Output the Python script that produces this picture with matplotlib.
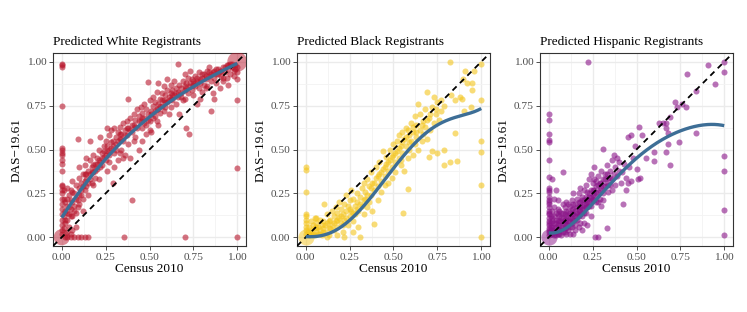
import numpy as np
import matplotlib
matplotlib.use("Agg")
from matplotlib import pyplot as plt

plt.rcParams['font.family'] = ['Liberation Serif', 'DejaVu Serif']

titles = ["Predicted White Registrants", "Predicted Black Registrants", "Predicted Hispanic Registrants"]

# ---- White: (census, das) pairs
white_pts = [
    (0, 0.99), (0, 0.98), (0, 0.97), (0, 0.75), (0, 0.51), (0, 0.50), (0, 0.48), (0, 0.47), (0, 0.44),
    (0, 0.42), (0, 0.38), (0, 0.30), (0, 0.29), (0, 0.27), (0, 0.25), (0, 0.22), (0, 0.19), (0, 0.16),
    (0, 0.13), (0, 0.10), (0, 0.07), (0, 0.04), (0, 0.02),
    (0.01, 0.05), (0.01, 0.12), (0.02, 0.08), (0.02, 0.15), (0.02, 0.20), (0.03, 0.03), (0.03, 0.10),
    (0.03, 0.18), (0.04, 0.06), (0.04, 0.13), (0.04, 0.24), (0.05, 0.02), (0.05, 0.16), (0.05, 0.21),
    (0.01, 0.27), (0.02, 0.00), (0.015, 0.22), (0.03, 0.28), (0.06, 0.12), (0.06, 0.26),
    (0.03, 0), (0.05, 0), (0.07, 0), (0.09, 0), (0.11, 0), (0.13, 0), (0.15, 0), (0.08, 0.06), (0.06, 0.04),
    (0.355, 0), (0.70, 0), (1.0, 0),
    (0.07, 0.18), (0.07, 0.25), (0.08, 0.14), (0.08, 0.30), (0.09, 0.21), (0.09, 0.56), (0.10, 0.19),
    (0.10, 0.28), (0.10, 0.34), (0.11, 0.24), (0.11, 0.31), (0.12, 0.22), (0.12, 0.36), (0.13, 0.27),
    (0.13, 0.41), (0.14, 0.33), (0.14, 0.29), (0.15, 0.38), (0.15, 0.24), (0.16, 0.36), (0.16, 0.44),
    (0.17, 0.31), (0.17, 0.40), (0.18, 0.37), (0.18, 0.47), (0.19, 0.34), (0.19, 0.42), (0.20, 0.45),
    (0.20, 0.39), (0.21, 0.33), (0.21, 0.50), (0.22, 0.43), (0.22, 0.57), (0.23, 0.41), (0.23, 0.48),
    (0.12, 0.15), (0.06, 0.32), (0.14, 0.45), (0.16, 0.55), (0.10, 0.40),
    (0.24, 0.46), (0.24, 0.52), (0.25, 0.44), (0.25, 0.55), (0.26, 0.49), (0.26, 0.38), (0.27, 0.58),
    (0.27, 0.47), (0.28, 0.51), (0.28, 0.61), (0.29, 0.31), (0.29, 0.55), (0.30, 0.48), (0.30, 0.62),
    (0.31, 0.53), (0.31, 0.57), (0.32, 0.44), (0.32, 0.60), (0.33, 0.56), (0.33, 0.63), (0.34, 0.50),
    (0.34, 0.59), (0.35, 0.65), (0.35, 0.55), (0.36, 0.47), (0.36, 0.61), (0.37, 0.58), (0.37, 0.66),
    (0.38, 0.79), (0.38, 0.62), (0.39, 0.45), (0.39, 0.68), (0.40, 0.21), (0.40, 0.60), (0.41, 0.64),
    (0.41, 0.70), (0.42, 0.57), (0.42, 0.67), (0.43, 0.62), (0.43, 0.73), (0.44, 0.69), (0.44, 0.50),
    (0.45, 0.66), (0.45, 0.74), (0.30, 0.40), (0.35, 0.45), (0.26, 0.62), (0.38, 0.53),
    (0.46, 0.71), (0.46, 0.62), (0.47, 0.76), (0.47, 0.68), (0.48, 0.64), (0.48, 0.73), (0.49, 0.886),
    (0.49, 0.70), (0.50, 0.78), (0.50, 0.66), (0.51, 0.72), (0.51, 0.60), (0.52, 0.75), (0.52, 0.80),
    (0.53, 0.69), (0.53, 0.77), (0.54, 0.73), (0.54, 0.83), (0.55, 0.76), (0.55, 0.64), (0.56, 0.79),
    (0.56, 0.71), (0.57, 0.82), (0.57, 0.75), (0.58, 0.78), (0.58, 0.86), (0.59, 0.74), (0.59, 0.81),
    (0.60, 0.84), (0.60, 0.77), (0.61, 0.80), (0.61, 0.70), (0.62, 0.82), (0.62, 0.87), (0.63, 0.78),
    (0.63, 0.84), (0.64, 0.81), (0.64, 0.89), (0.65, 0.76), (0.65, 0.85), (0.66, 0.83), (0.664, 0.99),
    (0.67, 0.70), (0.67, 0.87), (0.68, 0.80), (0.68, 0.85), (0.69, 0.89), (0.69, 0.78), (0.70, 0.84),
    (0.71, 0.62), (0.725, 0.59), (0.52, 0.68), (0.58, 0.72), (0.46, 0.55), (0.50, 0.61), (0.55, 0.88),
    (0.60, 0.90),
    (0.71, 0.88), (0.72, 0.82), (0.72, 0.91), (0.73, 0.86), (0.74, 0.84), (0.74, 0.90), (0.75, 0.87),
    (0.75, 0.81), (0.76, 0.92), (0.76, 0.86), (0.77, 0.89), (0.78, 0.85), (0.78, 0.94), (0.79, 0.88),
    (0.80, 0.91), (0.80, 0.83), (0.81, 0.93), (0.81, 0.87), (0.82, 0.90), (0.83, 0.95), (0.83, 0.86),
    (0.84, 0.92), (0.85, 0.72), (0.85, 0.89), (0.86, 0.94), (0.86, 0.82), (0.87, 0.91), (0.88, 0.96),
    (0.88, 0.88), (0.89, 0.93), (0.90, 0.85), (0.90, 0.95), (0.91, 0.92), (0.92, 0.97), (0.92, 0.89),
    (0.93, 0.94), (0.94, 0.91), (0.94, 0.98), (0.95, 0.96), (0.96, 0.93), (0.96, 0.99), (0.97, 0.97),
    (0.98, 0.95), (0.98, 0.92), (0.99, 0.98), (1.0, 0.97), (1.0, 0.94), (1.0, 0.90), (1.0, 0.78),
    (1.0, 0.395), (0.79, 0.79), (0.77, 0.76), (0.87, 0.79), (0.95, 0.87), (0.70, 0.93), (0.73, 0.95),
    (0.84, 0.97),
    (0.02, 0.10), (0.03, 0.14), (0.04, 0.17), (0.05, 0.12), (0.06, 0.20), (0.07, 0.15), (0.08, 0.22),
    (0.09, 0.17), (0.10, 0.24), (0.11, 0.27), (0.12, 0.29), (0.13, 0.32), (0.14, 0.36), (0.15, 0.31),
    (0.16, 0.33), (0.17, 0.37), (0.18, 0.41), (0.19, 0.38), (0.20, 0.42), (0.21, 0.44), (0.22, 0.40),
    (0.23, 0.45), (0.24, 0.49), (0.25, 0.47), (0.26, 0.52), (0.27, 0.50), (0.28, 0.54), (0.29, 0.52),
    (0.31, 0.50), (0.32, 0.55), (0.33, 0.59), (0.34, 0.56), (0.36, 0.58), (0.37, 0.62), (0.39, 0.61),
    (0.40, 0.64), (0.42, 0.63), (0.44, 0.66), (0.46, 0.68), (0.47, 0.65), (0.49, 0.67), (0.51, 0.70),
    (0.53, 0.72), (0.55, 0.73), (0.56, 0.75), (0.57, 0.78), (0.59, 0.77), (0.61, 0.78), (0.62, 0.79),
    (0.63, 0.81), (0.65, 0.82), (0.66, 0.80), (0.68, 0.82), (0.70, 0.86), (0.71, 0.85), (0.73, 0.88),
    (0.75, 0.89), (0.76, 0.88), (0.77, 0.91), (0.79, 0.90), (0.80, 0.93), (0.82, 0.92), (0.84, 0.94),
    (0.85, 0.93), (0.87, 0.95), (0.88, 0.93), (0.89, 0.96), (0.91, 0.95), (0.93, 0.97), (0.95, 0.98),
    (0.97, 0.99), (0.99, 0.96), (0.03, 0.22), (0.05, 0.27), (0.13, 0.36), (0.18, 0.30), (0.27, 0.43),
    (0.33, 0.48), (0.41, 0.55), (0.48, 0.59), (0.54, 0.66), (0.62, 0.74), (0.70, 0.79), (0.82, 0.85),
    (0.92, 0.91),
]

# ---- Black
black_pts = [
    (0, 0.40), (0, 0.385), (0, 0.255), (0, 0.12), (0, 0.10), (0, 0.08), (0, 0.06), (0, 0.04), (0, 0.02),
    (0.01, 0.03), (0.02, 0.06), (0.02, 0.01), (0.03, 0.04), (0.03, 0.09), (0.04, 0.02), (0.04, 0.07),
    (0.05, 0.05), (0.05, 0.11), (0.06, 0.03), (0.06, 0.08), (0.07, 0.02), (0.07, 0.06), (0.08, 0.10),
    (0.08, 0.04), (0.09, 0.07), (0.09, 0.01), (0.10, 0.05), (0.10, 0.09), (0.106, 0.19), (0.11, 0.03),
    (0.12, 0.08), (0.12, 0.13), (0.13, 0.05), (0.13, 0.01), (0.14, 0.10), (0.15, 0.07), (0.15, 0.15),
    (0.16, 0.04), (0.16, 0.12), (0.17, 0.09), (0.17, 0.17), (0.18, 0.06), (0.18, 0.14), (0.19, 0.11),
    (0.19, 0.20), (0.20, 0.08), (0.20, 0.16), (0.21, 0.13), (0.21, 0.03), (0.22, 0.19), (0.22, 0.10),
    (0.23, 0.15), (0.23, 0.24), (0.24, 0.07), (0.24, 0.18), (0.25, 0.12), (0.25, 0.21), (0.26, 0.27),
    (0.26, 0.15), (0.27, 0.09), (0.27, 0.22), (0.28, 0.18), (0.28, 0.13), (0.29, 0.25), (0.29, 0.20),
    (0.30, 0.15), (0.30, 0.06), (0.31, 0.0), (0.31, 0.23), (0.32, 0.28), (0.32, 0.18), (0.33, 0.13),
    (0.33, 0.31), (0.34, 0.22), (0.34, 0.26), (0.35, 0.17), (0.35, 0.33), (0.36, 0.29), (0.36, 0.20),
    (0.37, 0.37), (0.37, 0.24), (0.38, 0.15), (0.38, 0.31), (0.39, 0.078), (0.39, 0.27), (0.40, 0.40),
    (0.40, 0.34), (0.41, 0.21), (0.41, 0.29), (0.42, 0.43), (0.42, 0.36), (0.43, 0.32), (0.43, 0.26),
    (0.44, 0.49), (0.44, 0.39), (0.45, 0.35), (0.45, 0.30), (0.46, 0.42), (0.46, 0.46), (0.47, 0.38),
    (0.47, 0.31), (0.48, 0.50), (0.48, 0.44), (0.49, 0.40), (0.49, 0.34), (0.50, 0.47), (0.50, 0.53),
    (0.51, 0.43), (0.51, 0.37), (0.52, 0.55), (0.52, 0.49), (0.53, 0.45), (0.53, 0.58), (0.54, 0.41),
    (0.54, 0.52), (0.55, 0.60), (0.553, 0.137), (0.55, 0.48), (0.56, 0.56), (0.56, 0.38), (0.57, 0.52),
    (0.57, 0.62), (0.58, 0.274), (0.58, 0.45), (0.59, 0.58), (0.59, 0.50), (0.60, 0.65), (0.60, 0.55),
    (0.61, 0.47), (0.61, 0.60), (0.62, 0.69), (0.62, 0.53), (0.63, 0.57), (0.63, 0.64), (0.64, 0.76),
    (0.64, 0.50), (0.65, 0.61), (0.65, 0.70), (0.66, 0.55), (0.67, 0.66), (0.67, 0.59), (0.68, 0.73),
    (0.68, 0.63), (0.69, 0.83), (0.69, 0.56), (0.70, 0.46), (0.70, 0.68), (0.71, 0.61), (0.72, 0.49),
    (0.72, 0.74), (0.73, 0.80), (0.73, 0.65), (0.74, 0.70), (0.75, 0.48), (0.75, 0.77), (0.76, 0.67),
    (0.77, 0.72), (0.79, 0.41), (0.79, 0.50), (0.79, 0.75), (0.82, 1.0), (0.82, 0.43), (0.83, 0.81),
    (0.85, 0.78), (0.85, 0.595), (0.86, 0.435), (0.88, 0.80), (0.89, 0.79), (0.894, 0.90), (0.90, 0.72),
    (0.91, 0.95), (0.92, 0.88), (0.94, 0.745), (0.95, 0.88), (0.95, 0.84), (0.957, 0.95), (1.0, 0.985),
    (1.0, 0.78), (1.0, 0.55), (1.0, 0.485), (1.0, 0.297), (1.0, 0.0),
    (0.12, 0.0), (0.18, 0.01), (0.22, 0.0), (0.27, 0.03), (0.057, 0.11), (0, 0.13),
    (0.03, 0.02), (0.05, 0.01), (0.06, 0.06), (0.08, 0.02), (0.10, 0.03), (0.11, 0.07), (0.13, 0.09),
    (0.14, 0.05), (0.16, 0.08), (0.18, 0.10), (0.20, 0.12), (0.21, 0.07), (0.23, 0.11), (0.25, 0.16),
    (0.27, 0.14), (0.29, 0.16), (0.31, 0.19), (0.33, 0.21), (0.35, 0.24), (0.37, 0.28), (0.39, 0.31),
    (0.41, 0.35), (0.43, 0.37), (0.45, 0.40), (0.47, 0.43), (0.49, 0.46), (0.51, 0.48), (0.53, 0.51),
    (0.55, 0.54), (0.57, 0.57), (0.59, 0.54), (0.61, 0.63), (0.63, 0.60), (0.66, 0.64), (0.69, 0.67),
    (0.71, 0.70), (0.74, 0.73), (0.77, 0.78), (0.58, 0.61), (0.54, 0.44),
]

# ---- Hispanic
hisp_pts = [
    (0, 0.70), (0, 0.67), (0, 0.59), (0, 0.553), (0, 0.545), (0, 0.44), (0, 0.345), (0, 0.28), (0, 0.27),
    (0, 0.26), (0, 0.21), (0, 0.20), (0, 0.17), (0, 0.15), (0, 0.13), (0, 0.11), (0, 0.09), (0, 0.07),
    (0, 0.05), (0, 0.03), (0, 0.01), (0.02, 0.33),
    (0.01, 0.02), (0.01, 0.06), (0.01, 0.12), (0.02, 0.04), (0.02, 0.09), (0.02, 0.15), (0.03, 0.01),
    (0.03, 0.05), (0.03, 0.08), (0.03, 0.22), (0.04, 0.03), (0.04, 0.10), (0.04, 0.06), (0.05, 0.02),
    (0.05, 0.07), (0.05, 0.13), (0.05, 0.21), (0.06, 0.04), (0.06, 0.09), (0.06, 0.15), (0.07, 0.01),
    (0.07, 0.06), (0.07, 0.11), (0.08, 0.03), (0.08, 0.08), (0.08, 0.14), (0.08, 0.369), (0.09, 0.05),
    (0.09, 0.10), (0.09, 0.17), (0.10, 0.02), (0.10, 0.07), (0.10, 0.12), (0.10, 0.20),
    (0.11, 0.09), (0.11, 0.15), (0.11, 0.04), (0.12, 0.11), (0.12, 0.18), (0.12, 0.06), (0.13, 0.13),
    (0.13, 0.08), (0.13, 0.21), (0.14, 0.10), (0.14, 0.16), (0.14, 0.02), (0.15, 0.12), (0.15, 0.19),
    (0.15, 0.07), (0.16, 0.14), (0.16, 0.22), (0.16, 0.10), (0.17, 0.17), (0.17, 0.12), (0.17, 0.25),
    (0.18, 0.15), (0.18, 0.08), (0.18, 0.20), (0.19, 0.18), (0.19, 0.23), (0.19, 0.12), (0.20, 0.16),
    (0.20, 0.27), (0.20, 0.21), (0.21, 0.19), (0.21, 0.14), (0.21, 0.30), (0.22, 0.22), (0.22, 0.17),
    (0.223, 1.0), (0.23, 0.25), (0.23, 0.20), (0.23, 0.33), (0.24, 0.23), (0.24, 0.18), (0.24, 0.36),
    (0.25, 0.27), (0.25, 0.21), (0.25, 0.31), (0.18, 0.28), (0.14, 0.25), (0.12, 0.02), (0.19, 0.04),
    (0.22, 0.07),
    (0.26, 0.24), (0.26, 0.33), (0.26, 0.40), (0.265, 0.0), (0.27, 0.29), (0.27, 0.20), (0.28, 0.0),
    (0.28, 0.26), (0.28, 0.35), (0.29, 0.31), (0.29, 0.22), (0.30, 0.28), (0.30, 0.38), (0.30, 0.18),
    (0.307, 0.502), (0.31, 0.33), (0.31, 0.25), (0.32, 0.36), (0.32, 0.29), (0.33, 0.05), (0.33, 0.31),
    (0.33, 0.41), (0.34, 0.34), (0.34, 0.26), (0.35, 0.38), (0.35, 0.30), (0.36, 0.44), (0.36, 0.33),
    (0.37, 0.36), (0.37, 0.47), (0.38, 0.30), (0.38, 0.40), (0.39, 0.35), (0.40, 0.43), (0.40, 0.38),
    (0.41, 0.31), (0.42, 0.37), (0.424, 0.19), (0.43, 0.42), (0.44, 0.34), (0.45, 0.57), (0.45, 0.31),
    (0.46, 0.40), (0.47, 0.58), (0.47, 0.32), (0.48, 0.45), (0.49, 0.52), (0.50, 0.39), (0.51, 0.33),
    (0.515, 0.63), (0.52, 0.335), (0.53, 0.58), (0.553, 0.454), (0.60, 0.487), (0.60, 0.435),
    (0.63, 0.65), (0.65, 0.65), (0.67, 0.65), (0.67, 0.625), (0.67, 0.487), (0.68, 0.593), (0.68, 0.53),
    (0.69, 0.41), (0.693, 0.683), (0.72, 0.768), (0.73, 0.74), (0.74, 0.544), (0.76, 0.758),
    (0.78, 0.74), (0.79, 0.93), (0.84, 0.833), (0.84, 0.593), (0.909, 0.983), (0.947, 0.872),
    (1.0, 1.0), (1.0, 0.943), (1.0, 0.464), (1.0, 0.379), (1.0, 0.154), (1.0, 0.011), (0.39, 0.45),
    (0.44, 0.27),
    (0.01, 0.04), (0.01, 0.08), (0.02, 0.02), (0.02, 0.06), (0.02, 0.11), (0.03, 0.03), (0.03, 0.12),
    (0.04, 0.01), (0.04, 0.08), (0.04, 0.14), (0.05, 0.04), (0.05, 0.10), (0.06, 0.02), (0.06, 0.07),
    (0.06, 0.12), (0.07, 0.04), (0.07, 0.09), (0.07, 0.14), (0.08, 0.05), (0.08, 0.11), (0.09, 0.03),
    (0.09, 0.08), (0.09, 0.13), (0.10, 0.05), (0.10, 0.10), (0.10, 0.15), (0.11, 0.07), (0.11, 0.12),
    (0.12, 0.09), (0.12, 0.14), (0.13, 0.06), (0.13, 0.11), (0.13, 0.16), (0.14, 0.13), (0.14, 0.19),
    (0.15, 0.10), (0.15, 0.15), (0.16, 0.12), (0.16, 0.17), (0.17, 0.15), (0.17, 0.20), (0.18, 0.13),
    (0.18, 0.18), (0.19, 0.16), (0.19, 0.21), (0.20, 0.14), (0.20, 0.19), (0.21, 0.17), (0.21, 0.23),
    (0.22, 0.20), (0.22, 0.26), (0.23, 0.18), (0.23, 0.23), (0.24, 0.21), (0.24, 0.27), (0.25, 0.24),
    (0.26, 0.27), (0.26, 0.21), (0.27, 0.25), (0.27, 0.32), (0.28, 0.30), (0.29, 0.27), (0.30, 0.31),
    (0.31, 0.29), (0.32, 0.33), (0.33, 0.36), (0.34, 0.30), (0.35, 0.34), (0.03, 0.17), (0.05, 0.16),
    (0.08, 0.19), (0.11, 0.19), (0, 0.23), (0, 0.19), (0, 0.14), (0, 0.08), (0, 0.04), (0.04, 0.27),
    (0.15, 0.04), (0.17, 0.06), (0.20, 0.08), (0.24, 0.12), (0.28, 0.20), (0.31, 0.21), (0.36, 0.27),
]

# stacked points (many tracts at the same spot) and how many
white_stack = [(0, 0, 8), (1, 1, 12)]
black_stack = [(0, 0, 8)]
hisp_stack = [(0, 0, 8)]

# smooth fit lines
white_fit_x = [0, 0.1, 0.2, 0.3, 0.4, 0.5, 0.6, 0.7, 0.8, 0.9, 1.0]
white_fit_y = [0.11, 0.26, 0.39, 0.50, 0.60, 0.68, 0.76, 0.83, 0.89, 0.94, 0.99]
black_fit_x = [0, 0.144, 0.239, 0.334, 0.43, 0.524, 0.62, 0.713, 0.81, 0.90, 1.0]
black_fit_y = [0.002, 0.034, 0.082, 0.177, 0.30, 0.434, 0.54, 0.605, 0.66, 0.71, 0.73]
hisp_fit_x = [0, 0.064, 0.14, 0.235, 0.33, 0.424, 0.519, 0.614, 0.708, 0.803, 0.898, 0.992]
hisp_fit_y = [0.025, 0.034, 0.082, 0.177, 0.28, 0.376, 0.47, 0.538, 0.585, 0.624, 0.643, 0.637]

colors = ['#B8162C', '#F4C51C', '#8A1488']
pts_all = [white_pts, black_pts, hisp_pts]
stack_all = [white_stack, black_stack, hisp_stack]
fits = [(white_fit_x, white_fit_y), (black_fit_x, black_fit_y), (hisp_fit_x, hisp_fit_y)]
fit_deg = [3, 5, 5]

ticks = [0, 0.25, 0.5, 0.75, 1.0]
ticklabels = ["0.00", "0.25", "0.50", "0.75", "1.00"]

fig = plt.figure(figsize=(7.47, 3.12), dpi=100)
lefts = [53 / 747, 297 / 747, 540 / 747]

for i in range(3):
    ax = fig.add_axes([lefts[i], 66 / 312, 193 / 747, 193 / 312])
    pts = np.array(pts_all[i])
    ax.scatter(pts[:, 0], pts[:, 1], s=19, color=colors[i], alpha=0.6, linewidths=0, zorder=3)
    st = np.array(stack_all[i])
    ax.scatter(st[:, 0], st[:, 1], s=st[:, 2] * 17, color=colors[i], alpha=0.5, linewidths=0, zorder=3)
    ax.plot([-0.05, 1.05], [-0.05, 1.05], color='black', lw=1.3, dashes=(3.2, 2.6), zorder=4)
    # smooth polynomial through the read curve points
    fx, fy = fits[i]
    poly = np.polynomial.Polynomial.fit(fx, fy, fit_deg[i])
    xs = np.linspace(0, 1, 200)
    ax.plot(xs, poly(xs), color='#3D6E96', lw=2.4, solid_capstyle='butt', zorder=5)

    ax.set_xlim(-0.05, 1.05)
    ax.set_ylim(-0.05, 1.05)
    ax.set_xticks(ticks)
    ax.set_xticklabels(ticklabels)
    ax.set_yticks(ticks)
    ax.set_yticklabels(ticklabels)
    ax.set_xticks([0.125, 0.375, 0.625, 0.875], minor=True)
    ax.set_yticks([0.125, 0.375, 0.625, 0.875], minor=True)
    ax.grid(which='major', color='#EBEBEB', lw=1.0, zorder=0)
    ax.grid(which='minor', color='#F3F3F3', lw=0.6, zorder=0)
    ax.set_axisbelow(True)
    ax.tick_params(which='minor', length=0)
    ax.tick_params(which='major', length=2.7, width=0.6, color='#333333',
                   labelsize=8.2, labelcolor='#4D4D4D', pad=2)
    for sp in ax.spines.values():
        sp.set_color('#333333')
        sp.set_linewidth(0.8)
    ax.set_title(titles[i], loc='left', fontsize=9.5, pad=6)
    ax.set_xlabel("Census 2010", fontsize=9.5, labelpad=1)
    ax.set_ylabel("DAS\u221219.61", fontsize=9.5, labelpad=3)

fig.savefig("out.png", dpi=100)
